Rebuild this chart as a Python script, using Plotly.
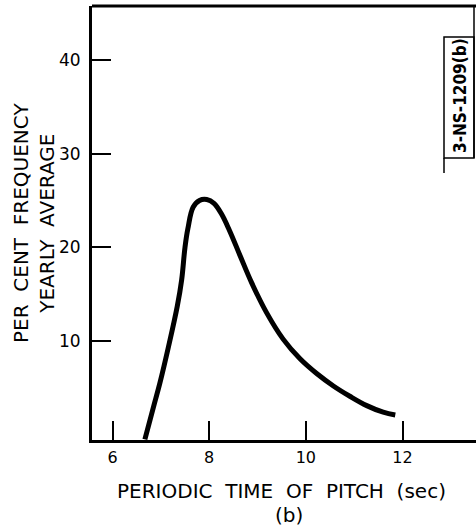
import plotly.graph_objects as go

# data
period_sec = [6.67, 6.85, 6.98, 7.15, 7.34, 7.43, 7.50, 7.56, 7.67, 7.80, 7.95,
              8.10, 8.25, 8.42, 8.64, 8.88, 9.19, 9.53, 9.88, 10.23, 10.57, 10.91,
              11.26, 11.60, 11.85]
freq_pct = [-0.5, 3.0, 5.5, 9.2, 13.7, 16.5, 20.0, 22.0, 24.3, 25.0, 25.1,
            24.7, 23.6, 21.8, 19.1, 16.2, 13.0, 10.2, 8.1, 6.5, 5.2, 4.1,
            3.1, 2.4, 2.1]
x_ticks = [6, 8, 10, 12]
y_ticks = [10, 20, 30, 40]

FONT = "DejaVu Sans"
W, H = 476, 532
L, R, T, B = 92, 0, 6, 92
pw, ph = W - L - R, H - T - B


def px(x):
    return (x - L) / pw


def py(y):
    return (H - B - y) / ph


fig = go.Figure()
fig.add_trace(go.Scatter(
    x=period_sec, y=freq_pct, mode="lines",
    line=dict(color="black", width=5, shape="spline", smoothing=1.1),
    hoverinfo="skip", showlegend=False, cliponaxis=True,
))

fig.update_layout(
    width=W, height=H,
    margin=dict(l=L, r=R, t=T, b=B, pad=0),
    paper_bgcolor="white", plot_bgcolor="white",
    font=dict(family=FONT, color="black"),
    xaxis=dict(
        range=[5.576, 13.52], tickvals=x_ticks, ticktext=[str(v) for v in x_ticks],
        ticks="inside", ticklen=19, tickwidth=2, tickcolor="black",
        showline=True, linewidth=3, linecolor="black", mirror=False,
        showgrid=False, zeroline=False, tickfont=dict(size=16, family=FONT),
        ticklabelstandoff=1,
    ),
    yaxis=dict(
        range=[-0.57, 45.76], tickvals=y_ticks, ticktext=[str(v) for v in y_ticks],
        ticks="inside", ticklen=19, tickwidth=2, tickcolor="black",
        showline=True, linewidth=3, linecolor="black",
        showgrid=False, zeroline=False, tickfont=dict(size=17, family=FONT),
        ticklabelstandoff=5,
    ),
)

shapes = [
    # top frame line
    dict(type="line", xref="paper", yref="paper", x0=0, x1=1, y0=py(6), y1=py(6),
         line=dict(color="black", width=3)),
    # right frame fragment
    dict(type="line", xref="paper", yref="paper", x0=px(474), x1=px(474), y0=py(6), y1=py(158),
         line=dict(color="black", width=1.5)),
    # label box
    dict(type="rect", xref="paper", yref="paper", x0=px(444), x1=px(474), y0=py(158), y1=py(37),
         line=dict(color="black", width=1.5)),
    dict(type="line", xref="paper", yref="paper", x0=px(444), x1=px(444), y0=py(158), y1=py(173),
         line=dict(color="black", width=1.5)),
]
fig.update_layout(shapes=shapes)

sp = "\u00a0\u00a0"
ann = [
    dict(text="<b>3-NS-1209(b)</b>", x=px(460), y=py(96), textangle=-90,
         font=dict(size=17, family="Liberation Sans Narrow, DejaVu Sans Condensed")),
    dict(text=f"PER{sp}CENT{sp}FREQUENCY<br>YEARLY{sp}AVERAGE", x=px(34), y=py(223),
         textangle=-90, font=dict(size=20, family=FONT)),
    dict(text=f"PERIODIC{sp}TIME{sp}OF{sp}PITCH{sp}(sec)", x=px(281), y=py(491),
         font=dict(size=20, family=FONT)),
    dict(text="(b)", x=px(289), y=py(515), font=dict(size=20, family=FONT)),
]
for a in ann:
    a.update(xref="paper", yref="paper", showarrow=False, xanchor="center", yanchor="middle")
fig.update_layout(annotations=ann)

fig.write_html("out.html")
